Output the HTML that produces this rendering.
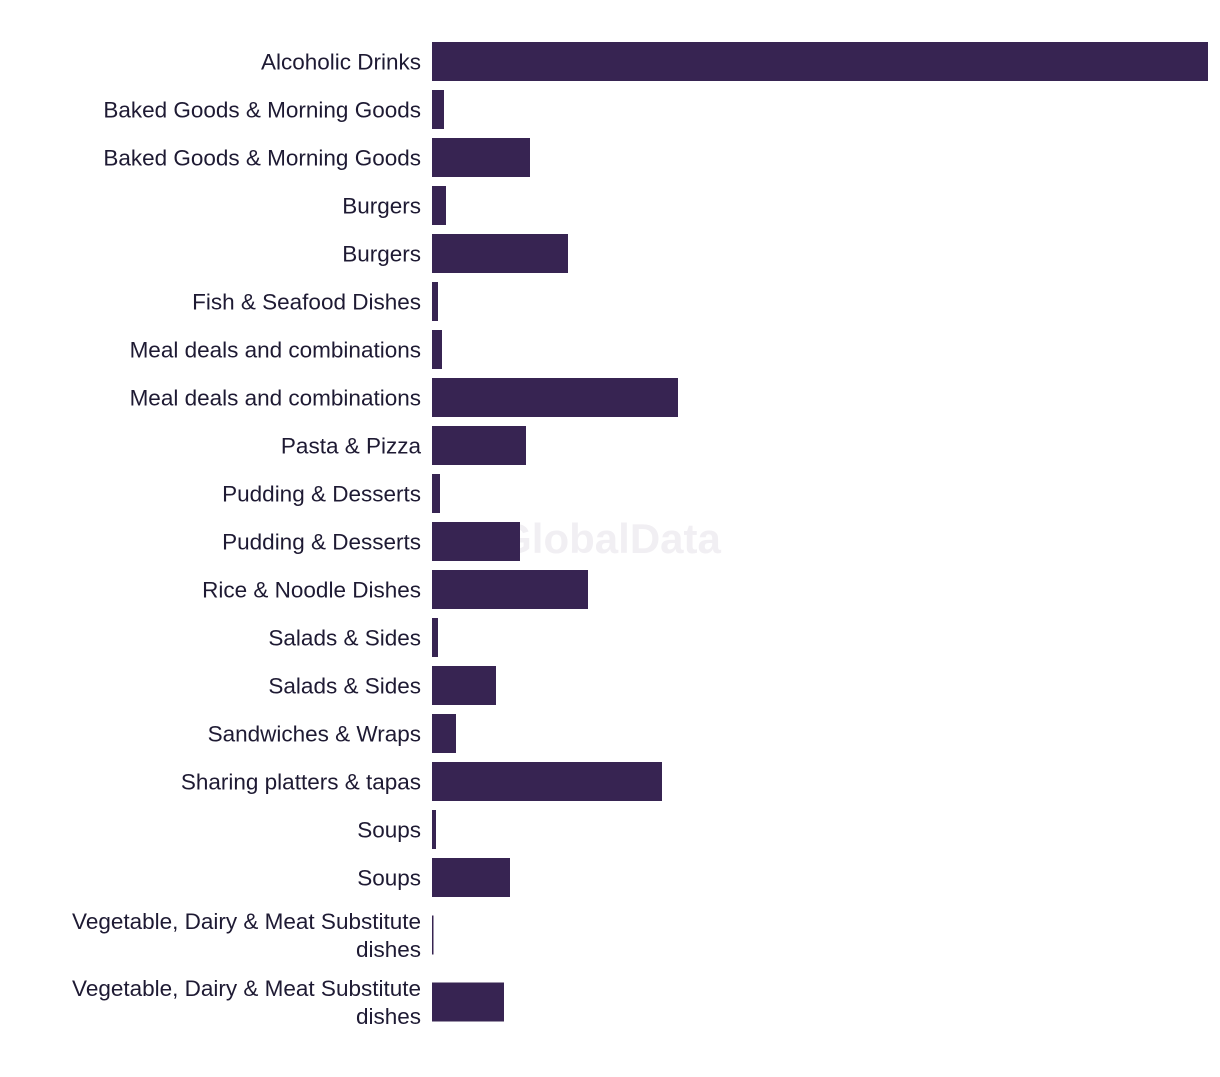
<!DOCTYPE html>
<html><head><meta charset="utf-8"><style>
body{margin:0;background:#fff;}
svg text{font-family:"Liberation Sans",sans-serif;}
</style></head><body>
<svg id="chart" width="1220" height="1072" xmlns="http://www.w3.org/2000/svg">
<text x="610" y="553" text-anchor="middle" font-size="42" font-weight="bold" fill="#f1eff3">GlobalData</text>
<g id="bars"></g><g id="labels"></g>
</svg>
<script>
const categories=["Alcoholic Drinks","Baked Goods & Morning Goods","Baked Goods & Morning Goods","Burgers","Burgers","Fish & Seafood Dishes","Meal deals and combinations","Meal deals and combinations","Pasta & Pizza","Pudding & Desserts","Pudding & Desserts","Rice & Noodle Dishes","Salads & Sides","Salads & Sides","Sandwiches & Wraps","Sharing platters & tapas","Soups","Soups","Vegetable, Dairy & Meat Substitute|dishes","Vegetable, Dairy & Meat Substitute|dishes"];
const values=[776,12,98,14,136,6,10,246,94,8,88,156,6,64,24,230,4,78,1,72];
const maxValue=776;
const x0=432,x1=1208;
function xScale(v){return x0+(v/maxValue)*(x1-x0);}
const ns="http://www.w3.org/2000/svg";
const bg=document.getElementById('bars'),lg=document.getElementById('labels');
let centers=[],prevExtra=0,c=61.5;
categories.forEach((cat,i)=>{
  const lines=cat.split('|');
  const extra=lines.length>1?19:0;
  if(i>0)c+=48+prevExtra/2+extra/2;
  centers.push(c);prevExtra=extra;
});
categories.forEach((cat,i)=>{
  const cy=centers[i];
  const r=document.createElementNS(ns,'rect');
  
  
  r.setAttribute('x',x0);r.setAttribute('y',cy-19.5);
  r.setAttribute('width',Math.max(1.5,xScale(values[i])-x0));r.setAttribute('height',39);
  r.setAttribute('fill','#372452');
  bg.appendChild(r);
  const lines=cat.split('|');
  const t=document.createElementNS(ns,'text');
  
  
  t.setAttribute('text-anchor','end');t.setAttribute('font-size','22.5');t.setAttribute('fill','#1e1a33');
  lines.forEach((ln,j)=>{
    const s=document.createElementNS(ns,'tspan');
    s.setAttribute('x',421);
    s.setAttribute('y',cy+8-(lines.length-1)*14+j*28);
    s.textContent=ln;t.appendChild(s);
  });
  lg.appendChild(t);
});
</script>
</body></html>
